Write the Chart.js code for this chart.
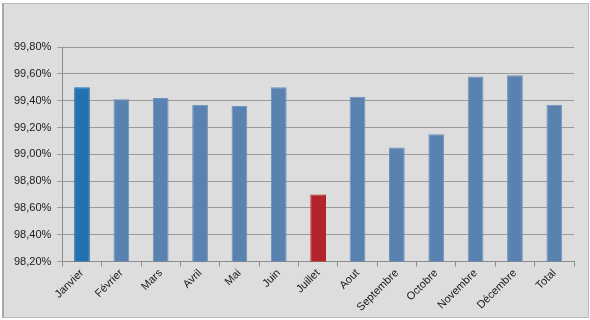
<!DOCTYPE html>
<html>
<head>
<meta charset="utf-8">
<script src="https://cdn.jsdelivr.net/npm/chart.js@4"></script>
<style>
  html, body { margin: 0; padding: 0; background: #ffffff; }
  .frame {
    position: absolute; left: 2px; top: 3px; width: 584px; height: 313px;
    background: #dddddd; border: 1px solid #b8b8b8; border-left: 2px solid #a8a8a8;
  }
  canvas { position: absolute; left: 0; top: 0; }
</style>
</head>
<body>
<div class="frame"></div>
<canvas id="chart" width="590" height="320"></canvas>
<script>
// Monthly availability (%)
const months = ['Janvier', 'Février', 'Mars', 'Avril', 'Mai', 'Juin', 'Juillet',
                'Aout', 'Septembre', 'Octobre', 'Novembre', 'Décembre', 'Total'];
const availability = [99.50, 99.41, 99.42, 99.37, 99.36, 99.50, 98.70,
                      99.43, 99.05, 99.15, 99.58, 99.59, 99.37];
const barColors = ['#2471b0', '#5a82b0', '#5a82b0', '#5a82b0', '#5a82b0', '#5a82b0', '#b3242a',
                   '#5a82b0', '#5a82b0', '#5a82b0', '#5a82b0', '#5a82b0', '#5a82b0'];

const yMin = 98.2;
const yMax = 99.8;
const yStep = 0.2;

const tickFont = { family: "'Liberation Sans', Arial, sans-serif", size: 11 };

new Chart(document.getElementById('chart'), {
    type: 'bar',
    data: {
        labels: months,
        datasets: [{
            data: availability,
            backgroundColor: barColors,
            borderColor: barColors.map(c => c === '#5a82b0' ? '#6f93bd' : c),
            borderWidth: 1,
            categoryPercentage: 1,
            barPercentage: 0.4
        }]
    },
    options: {
        responsive: false,
        animation: false,
        layout: { padding: { top: 47, left: 8, right: 16, bottom: 6 } },
        plugins: {
            legend: { display: false },
            tooltip: { enabled: false }
        },
        scales: {
            x: {
                grid: {
                    drawOnChartArea: false,
                    offset: true,
                    color: '#8c8c8c',
                    tickLength: 5
                },
                border: { color: '#8c8c8c', width: 1 },
                ticks: {
                    minRotation: 45,
                    maxRotation: 45,
                    color: '#1a1a1a',
                    font: tickFont,
                    padding: 0
                }
            },
            y: {
                min: yMin,
                max: yMax,
                grid: { color: '#9a9a9a', tickLength: 5 },
                border: { color: '#8c8c8c', width: 1 },
                ticks: {
                    stepSize: yStep,
                    color: '#1a1a1a',
                    font: tickFont,
                    padding: 6,
                    callback: v => v.toFixed(2).replace('.', ',') + '%'
                }
            }
        }
    }
});
</script>
</body>
</html>
